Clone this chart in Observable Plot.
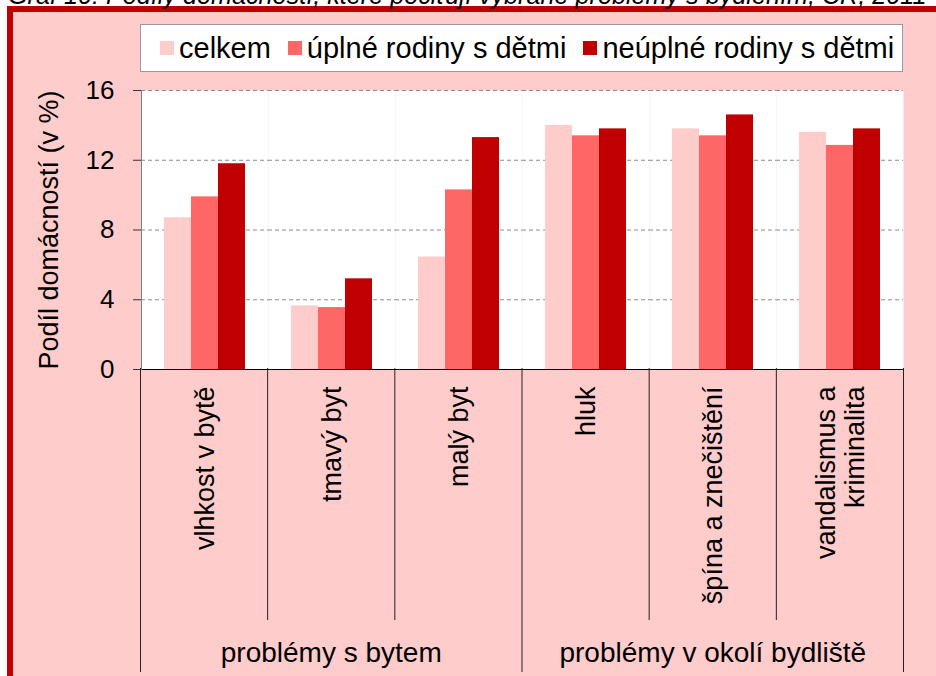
<!DOCTYPE html>
<html>
<head>
<meta charset="utf-8">
<script src="https://cdn.jsdelivr.net/npm/d3@7"></script>
<script src="https://cdn.jsdelivr.net/npm/@observablehq/plot@0.6"></script>
<style>
  body { margin: 0; background: #fff; }
  #page { position: relative; width: 936px; height: 676px; overflow: hidden; background: #fff;
          font-family: "Liberation Sans", Arial, sans-serif; color: #000; }
  #frame { position: absolute; left: 7px; top: 6px; width: 960px; height: 700px; background: #FFCCCC;
           border-left: 6px solid #C00000; border-top: 6px solid #C00000; }
  #title { position: absolute; left: 8px; top: -15px; font-style: italic; font-size: 25.2px; line-height: 20px;
           white-space: nowrap; }
  .chart { position: absolute; left: 0; }
  #main { top: 0; }
  #bottom { top: 368px; }
  #legend { position: absolute; left: 140px; top: 24px; width: 763px; height: 48px; box-sizing: border-box;
            border: 1px solid #9a9a9a; background: #fff; display: flex; align-items: center;
            padding-left: 19px; font-size: 29px; }
  .item { display: flex; align-items: center; margin-right: 17px; white-space: nowrap; }
  .sw { display: inline-block; width: 14px; height: 14px; margin-right: 5px; }
</style>
</head>
<body>
<div id="page">
  <div id="frame"></div>
  <div id="title"></div>
  <div id="main" class="chart"></div>
  <div id="bottom" class="chart"></div>
  <div id="legend"></div>
</div>
<script>
// ---- data ----
const titleText = "Graf 10: Podíly domácností, které pociťují vybrané problémy s bydlením, ČR, 2011";
const yLabel = "Podíl domácností (v %)";
const categories = ["vlhkost v bytě", "tmavý byt", "malý byt", "hluk", "špína a znečištění", "vandalismus a kriminalita"];
const categoryLabels = ["vlhkost v bytě", "tmavý byt", "malý byt", "hluk", "špína a znečištění", "vandalismus a\nkriminalita"];
const groups = ["problémy s bytem", "problémy v okolí bydliště"];
const groupSizes = [3, 3];
const series = ["celkem", "úplné rodiny s dětmi", "neúplné rodiny s dětmi"];
const colors = ["#FFCCCC", "#FF6666", "#C00000"];
const celkem = [8.7, 3.65, 6.45, 14.0, 13.8, 13.6];
const uplne = [9.9, 3.55, 10.3, 13.4, 13.4, 12.85];
const neuplne = [11.8, 5.2, 13.3, 13.8, 14.6, 13.8];
const yTicks = [0, 4, 8, 12, 16];

const values = [celkem, uplne, neuplne];
const rows = [];
categories.forEach((c, i) => series.forEach((s, j) => rows.push({category: c, series: s, value: values[j][i]})));

const font = "Liberation Sans, Arial, sans-serif";

// title & legend
document.getElementById("title").textContent = titleText;
const legend = document.getElementById("legend");
series.forEach((s, j) => {
  const it = document.createElement("div");
  it.className = "item";
  const sw = document.createElement("span");
  sw.className = "sw";
  sw.style.background = colors[j];
  const tx = document.createElement("span");
  tx.textContent = s;
  it.appendChild(sw); it.appendChild(tx);
  legend.appendChild(it);
});

// ---- main chart ----
const main = Plot.plot({
  width: 936, height: 376,
  marginLeft: 140, marginRight: 33, marginTop: 90, marginBottom: 7,
  style: {background: "transparent", fontFamily: font, color: "#000", overflow: "visible"},
  fx: {domain: categories, padding: 0, axis: null},
  x: {domain: series, paddingInner: 0, paddingOuter: 0.77, axis: null},
  y: {domain: [0, 16], axis: null},
  color: {domain: series, range: colors},
  marks: [
    Plot.frame({fill: "white", stroke: null}),
    Plot.gridY({ticks: yTicks.filter(d => d > 0), stroke: "#8c8c8c", strokeOpacity: 1, strokeDasharray: "4,3"}),
    Plot.barY(rows, {fx: "category", x: "series", y: "value", fill: "series"}),
    Plot.ruleY([0], {stroke: "#000"}),
    Plot.frame({anchor: "left", stroke: "#808080", facetAnchor: "left"}),
    Plot.axisY({ticks: yTicks, tickSize: 8, tickPadding: 19, fontSize: 26, label: null, stroke: "#333", tickFormat: d => String(d)}),
    Plot.text([yLabel], {frameAnchor: "left", rotate: -90, dx: -92, textAnchor: "middle", lineAnchor: "middle",
                         fontSize: 27, fill: "#000", facetAnchor: "left"})
  ]
});
document.getElementById("main").appendChild(main);

// ---- category axis below ----
const longBounds = [0];
groupSizes.forEach(n => longBounds.push(longBounds[longBounds.length - 1] + n));
const shortBounds = d3.range(1, categories.length).filter(b => !longBounds.includes(b));
const groupCenters = groups.map((g, i) => ({name: g, x: longBounds[i] + groupSizes[i] / 2}));

const bottom = Plot.plot({
  width: 936, height: 308,
  marginLeft: 140, marginRight: 33, marginTop: 0, marginBottom: 4,
  style: {background: "transparent", fontFamily: font, color: "#000", overflow: "visible"},
  x: {domain: [0, categories.length], axis: null},
  marks: [
    Plot.ruleX(longBounds, {stroke: "#222"}),
    Plot.ruleX(shortBounds, {stroke: "#222", insetBottom: 52}),
    Plot.text(categoryLabels, {x: (d, i) => i + 0.5, text: d => d, frameAnchor: "top", rotate: -90,
                               textAnchor: "end", lineAnchor: "middle", lineHeight: 1.1, dy: 18, fontSize: 27, fill: "#000"}),
    Plot.text(groupCenters, {x: "x", text: "name", frameAnchor: "bottom", lineAnchor: "middle", dy: -19,
                             fontSize: 28, fill: "#000"})
  ]
});
document.getElementById("bottom").appendChild(bottom);
</script>
</body>
</html>
